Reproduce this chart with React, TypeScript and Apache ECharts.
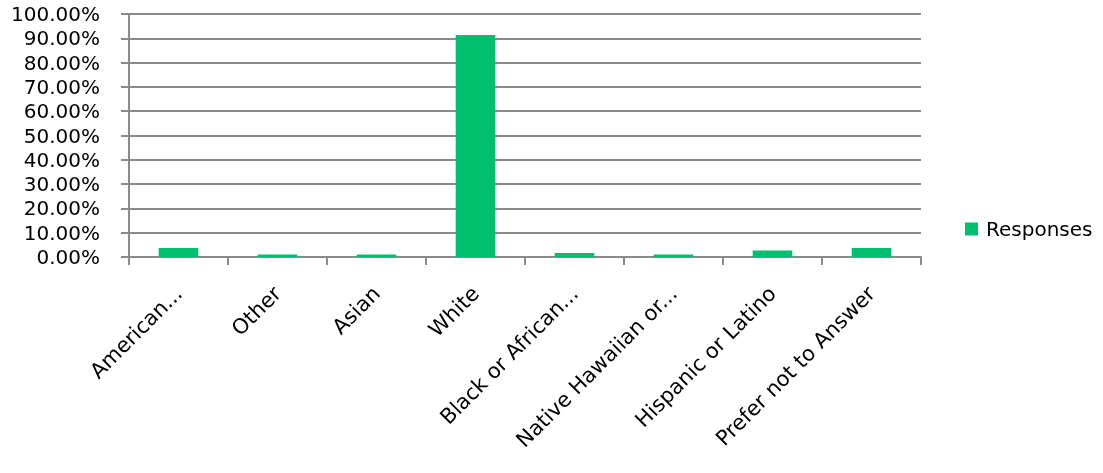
import React, { useEffect, useRef } from "react";
import * as echarts from "echarts";

const categories = [
  "American...",
  "Other",
  "Asian",
  "White",
  "Black or African...",
  "Native Hawaiian or...",
  "Hispanic or Latino",
  "Prefer not to Answer",
];
const responses = [3.7, 1.0, 1.0, 91.4, 1.6, 1.0, 2.7, 3.7];
const seriesName = "Responses";

export default function App() {
  const ref = useRef<HTMLDivElement>(null);
  useEffect(() => {
    if (!ref.current) return;
    const chart = echarts.init(ref.current, undefined, { renderer: "svg" });
    const font = "'DejaVu Sans', sans-serif";
    chart.setOption({
      animation: false,
      textStyle: { fontFamily: font },
      grid: { left: 129, right: 182, top: 14, bottom: 216, containLabel: false },
      legend: {
        data: [seriesName],
        left: 960,
        top: 214,
        orient: "vertical",
        icon: "rect",
        itemWidth: 13,
        itemHeight: 13,
        itemGap: 8,
        textStyle: { fontSize: 20, color: "#000", fontFamily: font, padding: [0, 0, 0, 3] },
      },
      xAxis: {
        type: "category",
        data: categories,
        axisLine: { lineStyle: { color: "#8a8a8a", width: 2 } },
        axisTick: { show: true, length: 8, alignWithLabel: false, lineStyle: { color: "#8a8a8a", width: 2 } },
        axisLabel: { rotate: 45, fontSize: 21, color: "#000", margin: 33, interval: 0, fontFamily: font },
      },
      yAxis: {
        type: "value",
        min: 0,
        max: 100,
        interval: 10,
        axisLine: { show: true, lineStyle: { color: "#8a8a8a", width: 2 } },
        axisTick: { show: true, length: 8, lineStyle: { color: "#8a8a8a", width: 2 } },
        splitLine: { lineStyle: { color: "#8a8a8a", width: 2 } },
        axisLabel: {
          fontSize: 20,
          color: "#000",
          margin: 29,
          fontFamily: font,
          formatter: (v: number) => v.toFixed(2) + "%",
        },
      },
      series: [
        {
          name: seriesName,
          type: "bar",
          data: responses,
          barCategoryGap: "60%",
          itemStyle: { color: "#00BF6F" },
        },
      ],
    });
    return () => chart.dispose();
  }, []);
  return (
    <div
      ref={ref}
      style={{ position: "fixed", left: 0, top: 0, width: 1103, height: 473 }}
    />
  );
}
